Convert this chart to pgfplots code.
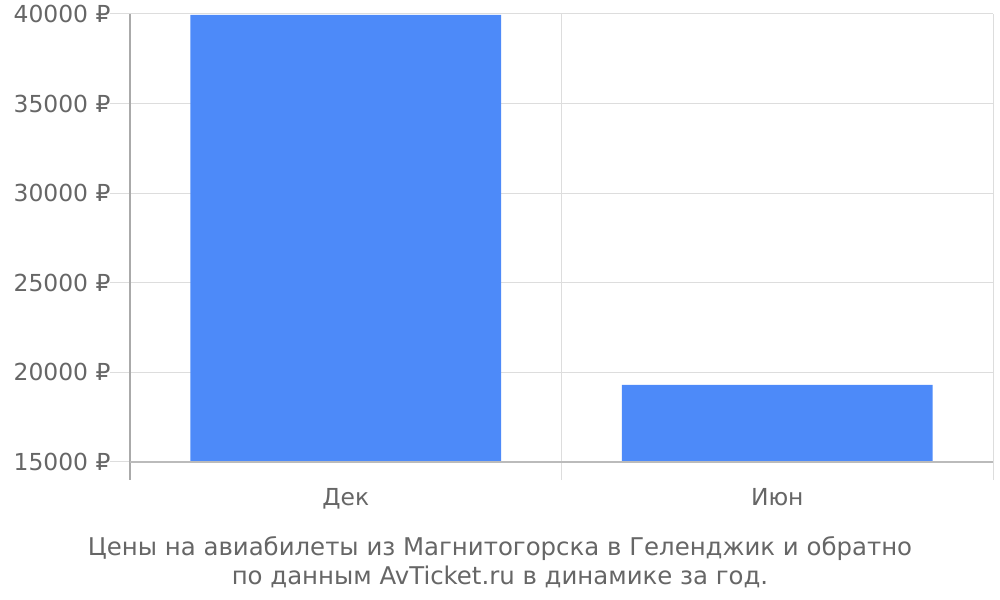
\documentclass[border=0pt]{standalone}
\usepackage{pgfplots}
\pgfplotsset{compat=1.18}
\usepackage{fontspec}
\setmainfont{DejaVu Sans}
\definecolor{barblue}{RGB}{77,138,249}
\definecolor{txtgray}{RGB}{102,102,102}
\definecolor{gridgray}{RGB}{221,221,221}
\definecolor{axisgray}{RGB}{170,170,170}
\begin{document}
\begin{tikzpicture}[x=1bp,y=1bp]
\path[use as bounding box] (0,0) rectangle (1000,600);
\begin{axis}[
    at={(130bp,138bp)}, anchor=south west,
    scale only axis, width=863bp, height=448bp,
    xmin=-0.5, xmax=1.5,
    ymin=15000, ymax=40000,
    scaled y ticks=false,
    ytick={15000,20000,...,40000},
    yticklabel={\pgfmathprintnumber[fixed,1000 sep={}]{\tick}~₽},
    /pgf/number format/assume math mode=true,
    xtick={0,1}, xticklabels={Дек,Июн},
    major x tick style={draw=none},
    extra x ticks={-0.5,0.5,1.5}, extra x tick labels={},
    extra x tick style={grid=major, major grid style={gridgray, line width=1bp},
        major tick length=18bp,
        major x tick style={draw=gridgray, line width=1bp}},
    xtick pos=bottom, ytick pos=left,
    ymajorgrids, major grid style={gridgray, line width=1bp},
    ytick style={gridgray, line width=1bp}, major tick length=20bp,
    tick align=outside,
    axis line style={draw=none},
    ticklabel style={font=\fontsize{23.5}{28}\selectfont, text=txtgray},
    yticklabel style={xshift=4bp},
    xticklabel style={yshift=-3bp},
    clip=false,
]
\addplot[ybar, bar width=0.72, fill=barblue, draw=none, bar shift=0pt] coordinates {(0,39950) (1,19300)};
\draw[axisgray, line width=1.2bp] ([yshift=-18bp]axis cs:-0.5,15000) -- (axis cs:-0.5,40000);
\draw[axisgray!80, line width=1.2bp] (axis cs:-0.5,15000) -- (axis cs:1.5,15000);
\end{axis}
\node[text=txtgray, font=\fontsize{24.5}{29.5}\selectfont, align=center] at (500,38)
  {Цены на авиабилеты из Магнитогорска в Геленджик и обратно\\по данным AvTicket.ru в динамике за год.};
\end{tikzpicture}
\end{document}
